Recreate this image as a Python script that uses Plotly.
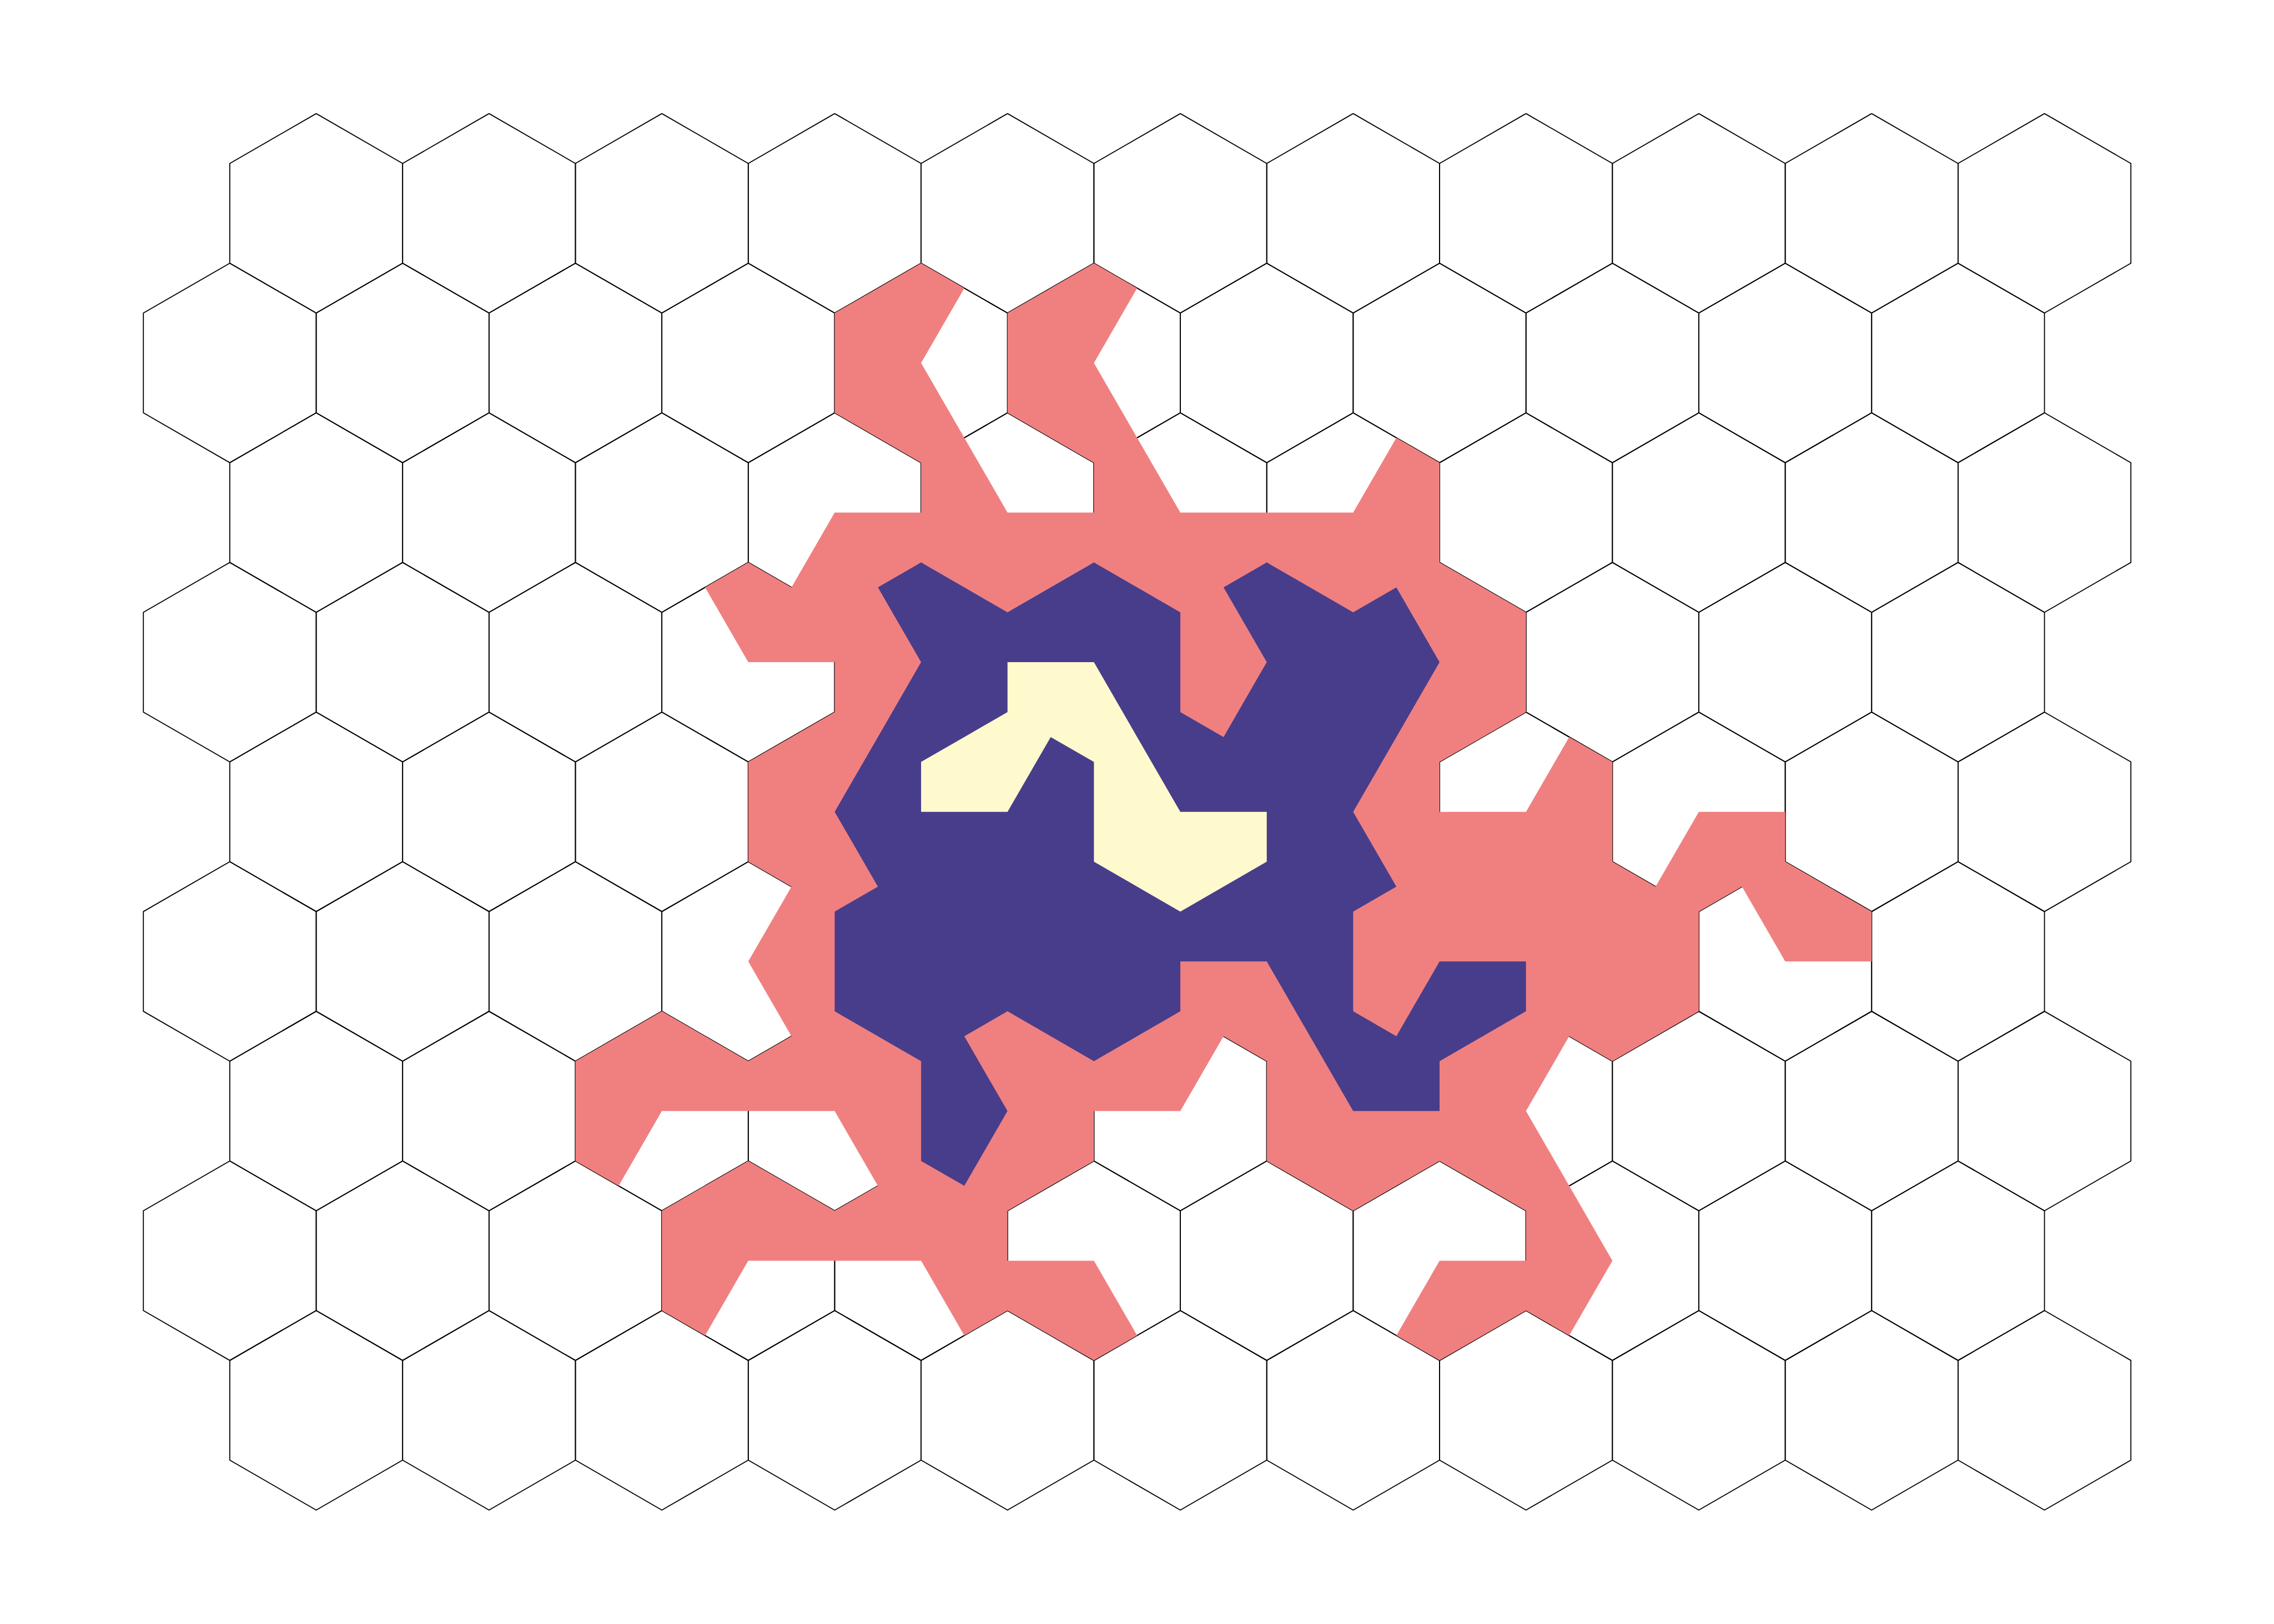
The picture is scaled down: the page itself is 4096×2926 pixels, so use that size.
import plotly.graph_objects as go

# ---- data -------------------------------------------------------------------
N_ROWS = 9
N_COLS = 11
# class of each of the 6 kites of every hex cell (vertex order: top, upper-right,
# lower-right, bottom, lower-left, upper-left); 0 = none, 1..3 = levels
KITE_ROWS = [
    "000000 000000 000000 000000 000000 000000 000000 000000 000000 000000 000000",
    "000000 000000 000000 000000 100111 100111 000000 000000 000000 000000 000000",
    "000000 000000 000000 001100 001111 001111 011110 000000 000000 000000 000000",
    "000000 000000 000000 110000 222211 222332 222211 111122 000000 000000 000000",
    "000000 000000 000000 122111 322223 223333 211222 011110 001100 000000 000000",
    "000000 000000 000000 011000 222222 222222 222112 112211 111111 110000 000000",
    "000000 000000 110011 111001 111122 100001 221111 100111 000000 000000 000000",
    "000000 000000 000000 110011 111001 000110 000000 001100 000011 000000 000000",
    "000000 000000 000000 000000 000000 000000 000000 000000 000000 000000 000000",
]
LEVELS = [1, 2, 3]
LEVEL_COLORS = ["#F08080", "#483D8B", "#FFFACD"]   # lightcoral, darkslateblue, lemonchiffon

# ---- geometry (hex lattice, pointy-top) ---------------------------------------
VERT = [(0.0, -2/3), (0.5, -1/3), (0.5, 1/3), (0.0, 2/3), (-0.5, 1/3), (-0.5, -1/3)]


def center(j, k):
    return k - 0.5 * (j % 2), float(j)


fig = go.Figure()

# hex outlines
hx, hy = [], []
for j in range(N_ROWS):
    for k in range(N_COLS):
        cx, cy = center(j, k)
        for dx, dy in VERT + [VERT[0]]:
            hx.append(cx + dx)
            hy.append(cy + dy)
        hx.append(None)
        hy.append(None)
fig.add_trace(go.Scatter(x=hx, y=hy, mode="lines",
                         line=dict(color="black", width=1.8),
                         hoverinfo="skip", showlegend=False))

# filled levels (each level drawn over the lower ones)
classes = [row.split() for row in KITE_ROWS]
for lev, col in zip(LEVELS, LEVEL_COLORS):
    fx, fy = [], []
    for j in range(N_ROWS):
        for k in range(N_COLS):
            cx, cy = center(j, k)
            code = classes[j][k]
            for v in range(6):
                if int(code[v]) < lev:
                    continue
                vx, vy = VERT[v]
                px, py = VERT[v - 1]
                nx, ny = VERT[(v + 1) % 6]
                pts = [(0.0, 0.0), ((px + vx) / 2, (py + vy) / 2), (vx, vy),
                       ((nx + vx) / 2, (ny + vy) / 2), (0.0, 0.0)]
                for ax_, ay_ in pts:
                    fx.append(cx + ax_)
                    fy.append(cy + ay_)
                fx.append(None)
                fy.append(None)
    fig.add_trace(go.Scatter(x=fx, y=fy, mode="lines", fill="toself",
                             fillcolor=col, line=dict(width=0, color=col),
                             hoverinfo="skip", showlegend=False))

# ---- layout: map data units to the page like the reference ---------------------
REF_W, REF_H = 6192.0, 4423.0
X0_PX, DX_PX = 861.0, 470.6     # reference px of column 0 and column spacing
Y0_PX, DY_PX = 581.0, 407.5     # reference px of row 0 and row spacing
x_range = [(0 - X0_PX) / DX_PX, (REF_W - X0_PX) / DX_PX]
y_range = [(REF_H - Y0_PX) / DY_PX, (0 - Y0_PX) / DY_PX]

fig.update_layout(
    width=4096, height=2926,
    margin=dict(l=0, r=0, t=0, b=0),
    paper_bgcolor="white", plot_bgcolor="white",
    showlegend=False,
    xaxis=dict(range=x_range, visible=False, showgrid=False, zeroline=False, fixedrange=True),
    yaxis=dict(range=y_range, visible=False, showgrid=False, zeroline=False, fixedrange=True),
)

fig.write_html("out.html")
